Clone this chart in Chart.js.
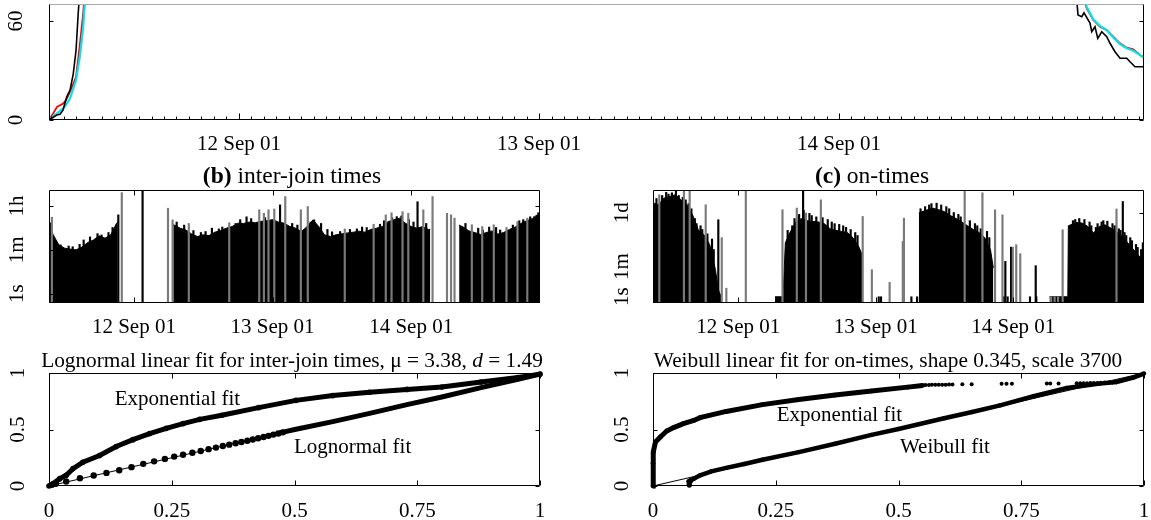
<!DOCTYPE html>
<html>
<head>
<meta charset="utf-8">
<script src="https://cdn.jsdelivr.net/npm/chart.js@4.4.1/dist/chart.umd.min.js"></script>
<style>
  html, body { margin: 0; background: #fff; }
  #wrap { position: relative; width: 1151px; height: 520px; }
  #wrap canvas { position: absolute; left: 0; top: 0; }
</style>
</head>
<body>
<div id="wrap">
  <canvas id="cTop" width="1151" height="520"></canvas>
  <canvas id="cJoin" width="1151" height="520"></canvas>
  <canvas id="cOn" width="1151" height="520"></canvas>
  <canvas id="cLogn" width="1151" height="520"></canvas>
  <canvas id="cWeib" width="1151" height="520"></canvas>
</div>
<script>
// hours are counted from 12 Sep 01 00:00
const dayTicks = [0, 24, 48];
const dayLabels = ['12 Sep 01', '13 Sep 01', '14 Sep 01'];

// (a) top panel - three curves, only the ends are inside the frame
const topYTicks = [0, 60];
const topYLabels = ['0', '60'];
const topBlackH = [-15.2, -14.58, -14.32, -14.08, -13.78, -13.66, -13.52, -13.26, -13.04, -12.86, -12.72, 30,
  66.94, 67.12, 67.42, 67.6, 68.08, 68.22, 68.48, 68.7, 69.02, 69.42, 69.68, 70.08, 70.48, 71.02, 71.28, 71.68, 72.34, 72.4];
const topBlackV = [0, 3, 3.5, 6, 14, 16, 18, 28, 42, 65, 80, null,
  80, 63.6, 62.6, 65, 58.8, 53.5, 56.5, 49.5, 53.5, 50.5, 46.5, 41.4, 37.4, 37.4, 35.3, 32.3, 32.3, 33];
const topRedH = [-15.2, -14.86, -14.56, -14.06, -13.84, -13.52, -13.04, -12.72, -12.46, -12.32, 30,
  67.28, 67.82, 68.34, 68.88, 69.42, 69.94, 70.48, 71.02, 71.54, 72.08, 72.4];
const topRedV = [0, 4, 7.9, 10, 12, 17, 26, 46.5, 65, 80, null,
  80, 67.7, 60.6, 56.5, 54.5, 50.5, 46.5, 43.8, 42.8, 39.4, 38];
const topCyanH = [-15.2, -14.88, -14.56, -14.08, -13.84, -13.52, -13.04, -12.72, -12.48, -12.24, 30,
  67.42, 67.82, 68.34, 68.88, 69.42, 69.94, 70.48, 71.02, 71.54, 72.08, 72.4];
const topCyanV = [0, 2, 4, 7, 9, 13, 24, 39, 55, 80, null,
  80, 68.5, 61, 57, 54.5, 50, 46, 43.5, 42, 39.5, 37.5];

// (b) inter-join times, seconds (log scale); null separates blocks
const joinYTicks = [1, 60, 3600];
const joinYLabels = ['1s', '1m', '1h'];
const joinEnvH = [-14.7, -14.5, -14, -13, -12, -11, -10, -9, -8, -7, -6, -5, -4, -3, -2.8, 2,
  6.8, 7, 8, 9, 10, 11, 12, 13, 14, 15, 16, 17, 18, 19, 20, 21, 22, 23, 24, 25, 26, 27, 28, 29, 30,
  31, 32, 33, 34, 35, 36, 37, 38, 39, 40, 41, 42, 43, 44, 45, 46, 47, 48, 49, 50, 51, 51.3, 53,
  56.3, 57, 58, 59, 60, 61, 62, 63, 64, 65, 66, 67, 68, 69, 70, 70.3];
const joinEnvV = [700, 600, 250, 95, 70, 64, 60, 77, 118, 150, 220, 178, 242, 720, 800, null,
  615, 600, 450, 380, 260, 207, 242, 225, 310, 360, 450, 525, 720, 700, 800, 750, 850, 900, 1000, 800, 720, 525, 450, 330, 525,
  980, 525, 242, 207, 242, 265, 290, 310, 340, 310, 400, 450, 525, 830, 980, 1150, 720, 525, 450, 525, 400, 400, null,
  600, 500, 350, 300, 250, 300, 350, 260, 300, 400, 500, 700, 900, 1100, 1500, 1800];
const joinGrayH = [-14.2, -2.1, 5.9, 6.7, 9.5, 16.5, 21.7, 22.5, 23.3, 24.3, 26.2, 28.9, 30.1, 36.5, 41.5,
  43.6, 44.6, 46.5, 47.5, 50.1, 51.7, 54.2, 54.9, 55.5, 58.5, 60.3, 62.3, 64.5, 66.4, 68.1];
const joinGrayV = [1250, 12400, 2900, 975, 700, 750, 2500, 1800, 2500, 2700, 8600, 2500, 3400, 420, 650,
  1560, 1900, 2100, 1800, 2500, 8600, 1800, 1560, 1150, 620, 525, 615, 480, 830, 1150];
const joinBlackH = [-14.5, -3.1, -2.7, 1.5, 13.5, 19.5, 25.3, 31.2, 33.5, 39.5, 45.5, 49.1, 61.5, 69.3, 70,
  -13.6, -12.7, -11.3, -10.6, -9.4, -8.7, -7.6, -6.3, -5.6, -4.4, -3.7,
  7.4, 8.7, 10.3, 11.6, 12.4, 14.7, 15.3, 17.6, 18.4, 20.3, 22.7, 27.4, 28.3, 30.6, 32.4, 34.3, 35.7, 37.4, 38.6,
  40.3, 42.6, 43.3, 44.7, 46.3, 47.6, 48.4, 50.6,
  57.4, 59.6, 60.4, 62.7, 63.4, 65.6, 66.7, 67.4, 68.6, 69.7];
const joinBlackV = [740, 385, 1560, 1e6, 450, 1300, 3950, 980, 400, 500, 1320, 5300, 500, 1320, 1900,
  130, 95, 85, 80, 100, 150, 200, 270, 240, 300, 480,
  800, 600, 360, 300, 330, 420, 500, 700, 1000, 1100, 1200, 700, 600, 800, 700, 320, 330, 400, 420,
  480, 650, 900, 1200, 1400, 1000, 800, 700,
  700, 450, 380, 480, 380, 600, 900, 1000, 1300, 1500];

// (c) on-times, seconds (log scale)
const onYTicks = [1, 60, 86400];
const onYLabels = ['1s', '1m', '1d'];
const onEnvH = [-14.9, -14.6, -14, -13, -12, -11, -10, -9, -8, -7, -6, -5, -4, -3.5, -3, 2,
  6.4, 7.8, 8.2, 9, 10, 11, 12, 13, 14, 15, 16, 17, 18, 19, 20, 21, 21.6, 26,
  31.5, 32, 33, 34, 35, 36, 37, 38, 39, 40, 41, 42, 43, 44, 44.5, 50,
  54.3, 57.5, 57.6, 58, 59, 60, 61, 62, 63, 64, 65, 66, 67, 68, 69, 70, 70.8];
const onEnvV = [22000, 325000, 257000, 630000, 790000, 1000000, 500000, 257000, 66000, 8700, 4400, 1150, 39, 2.6, 1, null,
  1, 1, 1500, 6000, 25000, 40000, 30000, 27000, 25000, 20000, 10000, 8000, 7000, 6000, 3000, 900, 300, null,
  84000, 100000, 130000, 160000, 130000, 100000, 60000, 40000, 25000, 15000, 9000, 6000, 3000, 600, 50, null,
  1, 1, 15000, 17000, 23600, 21500, 13700, 5600, 13700, 17000, 11000, 6900, 3500, 1440, 580, 235, 300];
const onGrayH = [-13.8, -9.5, -8.5, -5.7, -2.9, -2.1, 1.3, 7.7, 10.2, 11.8, 14.4, 21.7, 23.3, 26.4, 28.7, 28.9,
  39.5, 42.6, 44.8, 46.1, 47.9, 48.5, 49.2, 54.6, 55.2, 55.8, 56.6, 66];
const onGrayV = [1e6, 1e7, 1e7, 257000, 3000, 3.2, 1e7, 132000, 165000, 84000, 500000, 53000, 39, 7, 1800, 42000,
  1e7, 1.3e6, 130000, 66000, 830, 1150, 340, 1, 1, 1, 8700, 145000];
const onBlackH = [-12.6, -10.9, -3.5, 9, 11.3, 24.5, 24.9, 30.2, 31.2, 46.3, 46.6, 47, 47.6, 50.9, 51.9, 52, 67.1, 70.6,
  -14.3, -13.3, -12.2, -11.6, -10.4, -9.7, -9.2, -8.7, -8.2, -7.6, -7.3, -6.6, -6.3, -5.4, -4.6, -4.3,
  8.6, 9.4, 9.8, 10.6, 11.4, 12.4, 12.8, 13.6, 14.7, 15.6, 16.3, 16.8, 17.6, 18.3, 18.8, 19.6, 20.4, 20.8,
  31.8, 32.6, 33.3, 33.7, 34.6, 35.4, 36.3, 36.8, 37.6, 38.4, 38.8, 40.4, 41.3, 41.7, 42.3, 43.4, 43.8,
  58.4, 58.8, 59.5, 60.4, 61.3, 61.6, 62.4, 62.7, 63.4, 63.7, 64.4, 65.3, 65.7, 66.4, 66.7, 67.4, 67.7, 68.4, 68.7, 69.4, 69.7, 70.3];
const onBlackV = [1.4e6, 1e7, 34000, 150, 1e7, 1, 1, 1, 1, 1, 120, 1, 830, 1, 67, 1, 400000, 1500,
  600000, 900000, 1.1e6, 1.3e6, 900000, 700000, 500000, 300000, 150000, 40000, 20000, 15000, 9000, 5000, 2500, 600,
  8000, 15000, 40000, 70000, 120000, 80000, 60000, 50000, 45000, 35000, 25000, 20000, 18000, 15000, 12000, 9000, 6000, 4000,
  150000, 200000, 250000, 300000, 320000, 250000, 200000, 150000, 90000, 70000, 50000, 30000, 20000, 15000, 10000, 7000, 3000,
  30000, 35000, 40000, 35000, 25000, 15000, 12000, 20000, 25000, 30000, 28000, 20000, 15000, 10000, 8000, 6000, 4000, 3000, 2000, 1200, 800, 600];

// quantile fits
const fitXTicks = [0, 0.25, 0.5, 0.75, 1];
const fitXLabels = ['0', '0.25', '0.5', '0.75', '1'];
const fitYTicks = [0, 0.5, 1];
const fitYLabels = ['0', '0.5', '1'];
const diagU = [0, 1];
const diagV = [0, 1];

const lognExpU = [0, 0.008, 0.022, 0.035, 0.049, 0.069, 0.103, 0.137, 0.171, 0.205, 0.239, 0.273, 0.307, 0.352, 0.427, 0.503, 0.578, 0.653, 0.729, 0.8, 0.88, 0.955, 1];
const lognExpV = [0, 0.02, 0.065, 0.095, 0.154, 0.21, 0.27, 0.35, 0.41, 0.464, 0.51, 0.552, 0.59, 0.626, 0.694, 0.758, 0.8, 0.83, 0.855, 0.876, 0.92, 0.96, 0.99];
const lognDotU = [0.006, 0.014, 0.035, 0.063, 0.091, 0.117, 0.143, 0.168, 0.192, 0.214, 0.236, 0.255, 0.273, 0.292, 0.309, 0.325,
  0.34, 0.354, 0.367, 0.38, 0.392, 0.404, 0.415, 0.426, 0.437, 0.447, 0.457, 0.467, 0.476];
const lognDotV = [0.01, 0.02, 0.04, 0.068, 0.093, 0.116, 0.14, 0.167, 0.196, 0.218, 0.24, 0.26, 0.276, 0.294, 0.31, 0.326,
  0.34, 0.354, 0.366, 0.378, 0.39, 0.401, 0.412, 0.423, 0.434, 0.444, 0.455, 0.465, 0.475];
const lognLineU = [0.47, 0.503, 0.578, 0.653, 0.729, 0.8, 0.88, 0.955, 1];
const lognLineV = [0.47, 0.502, 0.57, 0.643, 0.72, 0.788, 0.87, 0.945, 0.99];

const weibExpU = [0, 0, 0.001, 0.005, 0.015, 0.028, 0.042, 0.062, 0.083, 0.096, 0.149, 0.223, 0.297, 0.371, 0.445, 0.519, 0.549];
const weibExpV = [0, 0.2, 0.3, 0.39, 0.434, 0.487, 0.517, 0.552, 0.58, 0.605, 0.66, 0.72, 0.765, 0.805, 0.84, 0.875, 0.89];
const weibTailU = [0.555, 0.562, 0.568, 0.575, 0.582, 0.589, 0.596, 0.603, 0.61, 0.63, 0.649, 0.71, 0.72, 0.731, 0.802, 0.809, 0.826,
  0.863, 0.87, 0.877, 0.884, 0.891, 0.898, 0.905, 0.912, 0.92, 0.928, 0.936, 0.944];
const weibTailV = [0.893, 0.894, 0.895, 0.895, 0.896, 0.897, 0.897, 0.898, 0.899, 0.9, 0.9, 0.904, 0.904, 0.905, 0.906, 0.906, 0.907,
  0.909, 0.909, 0.91, 0.91, 0.911, 0.912, 0.912, 0.913, 0.915, 0.916, 0.917, 0.918];
const weibBlobU = [0.074, 0.074, 0.075, 0.077];
const weibBlobV = [0.008, 0.022, 0.036, 0.05];
const weibFitU = [0.072, 0.083, 0.096, 0.119, 0.149, 0.186, 0.223, 0.297, 0.371, 0.445, 0.5, 0.593, 0.65, 0.707, 0.775, 0.843, 0.91, 0.944, 0.978, 1];
const weibFitV = [0.04, 0.065, 0.095, 0.13, 0.16, 0.195, 0.232, 0.3, 0.374, 0.452, 0.505, 0.6, 0.655, 0.714, 0.794, 0.867, 0.906, 0.92, 0.959, 0.995];

const SERIF = '"Liberation Serif", "Times New Roman", serif';
const F = '21px ' + SERIF;

function pts(xs, ys) {
  return xs.map((x, i) => ({ x, y: ys[i] }));
}

// split an envelope at the nulls, one filled dataset per block
function blocks(xs, ys) {
  const out = [];
  let cur = [];
  xs.forEach((x, i) => {
    if (ys[i] === null) { if (cur.length) out.push(cur); cur = []; }
    else cur.push({ x, y: ys[i] });
  });
  if (cur.length) out.push(cur);
  return out;
}

// frame, inward ticks, tick labels and texts
function frame(d) {
  return {
    id: 'frame',
    afterDatasetsDraw(chart) {
      const { ctx, chartArea: a, scales: { x, y } } = chart;
      const L = Math.round(a.left) + 0.5, R = Math.round(a.right) - 0.5;
      const T = Math.round(a.top) + 0.5, B = Math.round(a.bottom) - 0.5;
      const seg = (x1, y1, x2, y2) => { ctx.beginPath(); ctx.moveTo(x1, y1); ctx.lineTo(x2, y2); ctx.stroke(); };
      ctx.save();
      ctx.lineWidth = 1;
      ctx.strokeStyle = d.topColor || '#000';
      seg(L, T, R, T);
      ctx.strokeStyle = '#000';
      seg(L, T, L, B); seg(L, B, R, B); seg(R, T, R, B);

      (d.xMinor || []).forEach(v => {
        const px = Math.round(x.getPixelForValue(v)) + 0.5;
        seg(px, B, px, B - 3);
      });
      d.xTicks.forEach(v => {
        const px = Math.round(x.getPixelForValue(v)) + 0.5;
        seg(px, B, px, B - d.tick);
        if (d.topTicks) seg(px, T, px, T + d.tick);
      });
      d.yTicks.forEach(v => {
        const py = Math.round(y.getPixelForValue(v)) + 0.5;
        seg(L, py, L + 4, py);
        seg(R, py, R - 4, py);
      });

      ctx.fillStyle = '#000';
      ctx.font = F;
      ctx.textAlign = 'center';
      ctx.textBaseline = 'alphabetic';
      d.xLabels.forEach((t, i) => ctx.fillText(t, x.getPixelForValue(d.xLabelAt[i]), d.xLabelY));

      ctx.textBaseline = 'middle';
      d.yLabels.forEach((t, i) => {
        ctx.save();
        ctx.translate(d.yLabelX, y.getPixelForValue(d.yLabelAt[i]));
        ctx.rotate(-Math.PI / 2);
        ctx.fillText(t, 0, 1);
        ctx.restore();
      });

      if (d.title) {
        const tf = d.titleSize + 'px ' + SERIF;
        ctx.textAlign = 'left';
        ctx.textBaseline = 'alphabetic';
        let w = 0;
        d.title.forEach(s => { ctx.font = (s.f || '') + ' ' + tf; w += ctx.measureText(s.t).width; });
        let cx = d.titleX - w / 2;
        d.title.forEach(s => {
          ctx.font = (s.f || '') + ' ' + tf;
          ctx.fillText(s.t, cx, d.titleY);
          cx += ctx.measureText(s.t).width;
        });
      }
      ctx.font = F;
      ctx.textAlign = 'left';
      ctx.textBaseline = 'alphabetic';
      (d.texts || []).forEach(t => ctx.fillText(t.t, x.getPixelForValue(t.u), y.getPixelForValue(t.v)));
      ctx.restore();
    }
  };
}

function makeChart(id, datasets, xs, ys, pad, deco) {
  return new Chart(document.getElementById(id), {
    type: 'line',
    data: { datasets },
    options: {
      responsive: false,
      animation: false,
      devicePixelRatio: 1,
      events: [],
      layout: { padding: pad },
      plugins: { legend: { display: false }, tooltip: { enabled: false } },
      scales: {
        x: Object.assign({ type: 'linear', display: false, offset: false, bounds: 'data' }, xs),
        y: Object.assign({ type: 'linear', display: false, bounds: 'data' }, ys)
      }
    },
    plugins: [frame(deco)]
  });
}

const lineDs = (data, color, w) => ({ data, borderColor: color, borderWidth: w, pointRadius: 0, tension: 0, clip: 0, spanGaps: false });
const envDs = data => ({ data, borderColor: '#000', backgroundColor: '#000', borderWidth: 1, pointRadius: 0, fill: 'start', tension: 0, clip: 0, order: 1 });
const spikeDs = (data, color) => ({ type: 'bar', data, backgroundColor: color, barThickness: 1.5, grouped: false, order: 0 });

const hourMinor = [];
for (let h = -15; h <= 72; h++) hourMinor.push(h);

// top panel
makeChart('cTop', [
  lineDs(pts(topBlackH, topBlackV), '#000', 1.6),
  lineDs(pts(topCyanH, topCyanV), '#00e5ee', 2.2),
  lineDs(pts(topRedH, topRedV), '#ff0000', 1.8)
], { min: -15.2, max: 72.4 }, { min: 0, max: 70.3 },
{ left: 49, right: 7, top: 4, bottom: 400 },
{ topColor: '#aaa', xMinor: hourMinor, xTicks: dayTicks, tick: 6, yTicks: topYTicks,
  xLabels: dayLabels, xLabelAt: dayTicks, xLabelY: 150,
  yLabels: topYLabels, yLabelAt: topYTicks, yLabelX: 15 });

// (b) inter-join times
makeChart('cJoin', [
  spikeDs(pts(joinGrayH, joinGrayV), '#7a7a7a'),
  spikeDs(pts(joinBlackH, joinBlackV), '#000'),
  ...blocks(joinEnvH, joinEnvV).map(envDs)
], { min: -14.7, max: 70.3 }, { type: 'logarithmic', min: 0.42, max: 15850 },
{ left: 49, right: 611, top: 190, bottom: 217 },
{ xTicks: dayTicks, topTicks: true, tick: 5, yTicks: joinYTicks,
  xLabels: dayLabels, xLabelAt: dayTicks, xLabelY: 333,
  yLabels: joinYLabels, yLabelAt: joinYTicks, yLabelX: 16,
  title: [{ t: '(b)', f: 'bold' }, { t: ' inter-join times' }], titleSize: 23.5, titleX: 292, titleY: 183 });

// (c) on-times
makeChart('cOn', [
  spikeDs(pts(onGrayH, onGrayV), '#7a7a7a'),
  spikeDs(pts(onBlackH, onBlackV), '#000'),
  ...blocks(onEnvH, onEnvV).map(envDs)
], { min: -14.9, max: 70.8 }, { type: 'logarithmic', min: 0.43, max: 1.9e6 },
{ left: 653, right: 7, top: 190, bottom: 217 },
{ xTicks: dayTicks, topTicks: true, tick: 5, yTicks: onYTicks,
  xLabels: dayLabels, xLabelAt: dayTicks, xLabelY: 333,
  yLabels: onYLabels, yLabelAt: onYTicks, yLabelX: 621,
  title: [{ t: '(c)', f: 'bold' }, { t: ' on-times' }], titleSize: 23.5, titleX: 872, titleY: 183 });

// lognormal fit
makeChart('cLogn', [
  { data: pts(lognExpU, lognExpV), borderColor: '#000', backgroundColor: '#000', borderWidth: 5, pointRadius: 2.8, pointBorderWidth: 0, clip: false },
  { data: pts(lognDotU, lognDotV), showLine: false, backgroundColor: '#000', pointRadius: 3.2, pointBorderWidth: 0, clip: false },
  { data: pts(lognLineU, lognLineV), borderColor: '#000', borderWidth: 5, borderCapStyle: 'round', pointRadius: 0, clip: false },
  { data: pts(diagU, diagV), borderColor: '#000', borderWidth: 1, pointRadius: 0, clip: false }
], { min: 0, max: 1 }, { min: 0, max: 1 },
{ left: 49, right: 611, top: 373, bottom: 34 },
{ xTicks: fitXTicks, topTicks: true, tick: 5, yTicks: fitYTicks,
  xLabels: fitXLabels, xLabelAt: fitXTicks, xLabelY: 517,
  yLabels: fitYLabels, yLabelAt: fitYTicks, yLabelX: 17,
  title: [{ t: 'Lognormal linear fit for inter-join times, \u03bc = 3.38, ' }, { t: 'd', f: 'italic' }, { t: ' = 1.49' }],
  titleSize: 21.3, titleX: 292, titleY: 367,
  texts: [{ t: 'Exponential fit', u: 0.134, v: 0.714 }, { t: 'Lognormal fit', u: 0.499, v: 0.289 }] });

// weibull fit
makeChart('cWeib', [
  { data: pts(weibExpU, weibExpV), borderColor: '#000', backgroundColor: '#000', borderWidth: 5, pointRadius: 2.4, pointBorderWidth: 0, clip: false },
  { data: pts(weibTailU, weibTailV), showLine: false, backgroundColor: '#000', pointRadius: 2, pointBorderWidth: 0, clip: false },
  { data: pts(weibBlobU, weibBlobV), showLine: false, backgroundColor: '#000', pointRadius: 2.6, pointBorderWidth: 0, clip: false },
  { data: pts(weibFitU, weibFitV), borderColor: '#000', backgroundColor: '#000', borderWidth: 4.5, pointRadius: 2.2, pointBorderWidth: 0, clip: false },
  { data: pts(diagU, diagV), borderColor: '#000', borderWidth: 1, pointRadius: 0, clip: false }
], { min: 0, max: 1 }, { min: 0, max: 1 },
{ left: 653, right: 7, top: 373, bottom: 34 },
{ xTicks: fitXTicks, topTicks: true, tick: 5, yTicks: fitYTicks,
  xLabels: fitXLabels, xLabelAt: fitXTicks, xLabelY: 517,
  yLabels: fitYLabels, yLabelAt: fitYTicks, yLabelX: 621,
  title: [{ t: 'Weibull linear fit for on-times, shape 0.345, scale 3700' }], titleSize: 21.3, titleX: 888, titleY: 367,
  texts: [{ t: 'Exponential fit', u: 0.252, v: 0.573 }, { t: 'Weibull fit', u: 0.503, v: 0.289 }] });
</script>
</body>
</html>
